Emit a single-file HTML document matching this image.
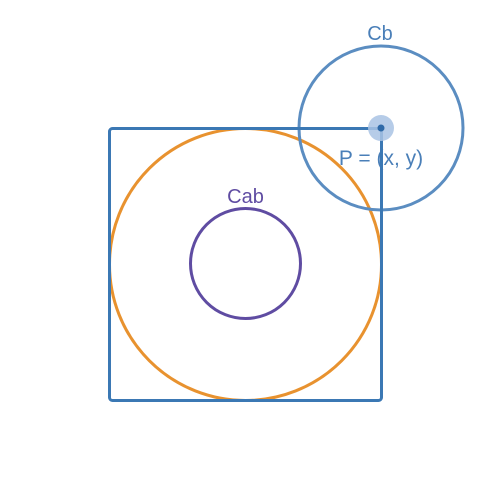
<!DOCTYPE html>
<html>
<head>
<meta charset="utf-8">
<style>
html,body{margin:0;padding:0;background:#fff;}
svg{display:block;}
text{font-family:"Liberation Sans",sans-serif;}
</style>
</head>
<body>
<svg width="500" height="500" viewBox="0 0 500 500">
  <circle cx="245.5" cy="264.5" r="136" fill="none" stroke="#e8922f" stroke-width="3"/>
  <circle cx="245.5" cy="263.5" r="55" fill="none" stroke="#5f4ca2" stroke-width="3"/>
  <text x="245.5" y="203" text-anchor="middle" font-size="20" fill="#5f4ca2">Cab</text>
  <circle cx="381" cy="128" r="82" fill="none" stroke="#5b8dc1" stroke-width="3"/>
  <text x="380" y="40" text-anchor="middle" font-size="20" fill="#4a7fb8">Cb</text>
  <text x="381" y="165" text-anchor="middle" font-size="21" fill="#4a7fb8">P = (x, y)</text>
  <rect x="109.5" y="128.5" width="272" height="272" rx="3" fill="none" stroke="#3b78b4" stroke-width="3"/>
  <circle cx="381" cy="128" r="13" fill="#a9c3e4" opacity="0.85"/>
  <circle cx="381" cy="128" r="3.5" fill="#2f6aa8"/>
</svg>
</body>
</html>
